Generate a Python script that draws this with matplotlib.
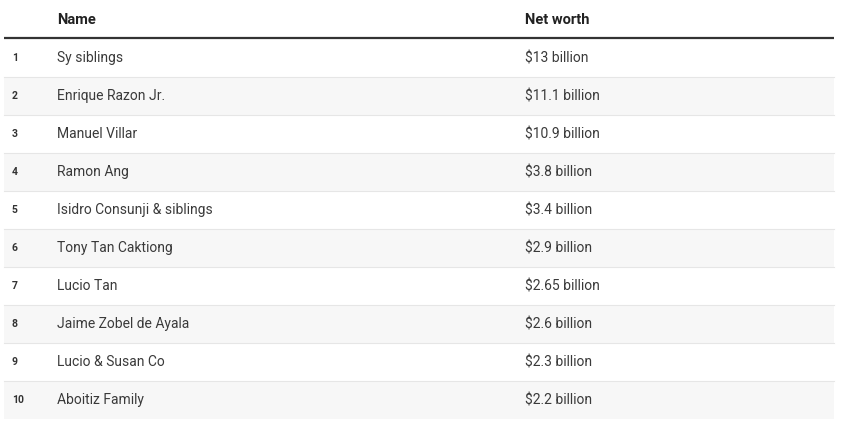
import matplotlib
matplotlib.use("Agg")
import matplotlib.pyplot as plt
from matplotlib.patches import Rectangle

ranks = [1, 2, 3, 4, 5, 6, 7, 8, 9, 10]
names = ["Sy siblings", "Enrique Razon Jr.", "Manuel Villar", "Ramon Ang",
         "Isidro Consunji & siblings", "Tony Tan Caktiong", "Lucio Tan",
         "Jaime Zobel de Ayala", "Lucio & Susan Co", "Aboitiz Family"]
net_worth = ["$13 billion", "$11.1 billion", "$10.9 billion", "$3.8 billion",
             "$3.4 billion", "$2.9 billion", "$2.65 billion", "$2.6 billion",
             "$2.3 billion", "$2.2 billion"]
headers = ["", "Name", "Net worth"]

plt.rcParams['font.family'] = ['Roboto', 'DejaVu Sans']
W, H = 843, 421
fig = plt.figure(figsize=(W / 100, H / 100), dpi=100)
ax = fig.add_axes([0, 0, 1, 1])
ax.set_xlim(0, W)
ax.set_ylim(H, 0)
ax.axis('off')

left, right = 4, 834
header_bottom = 38
row_h = 38
col_x = [12, 57, 525]

# header
for x, h in zip(col_x, headers):
    ax.text(x, 19.5, h, fontsize=10.5, fontweight='bold', color='#222222',
            va='center', ha='left')
ax.plot([left, right], [header_bottom, header_bottom], color='#333333', lw=1.6,
        solid_capstyle='butt')

for i, (r, n, v) in enumerate(zip(ranks, names, net_worth)):
    top = header_bottom + 1 + i * row_h
    if i % 2 == 1:
        ax.add_patch(Rectangle((left, top), right - left, row_h,
                               facecolor='#f7f7f7', edgecolor='none'))
    if i < len(ranks) - 1:
        ax.plot([left, right], [top + row_h, top + row_h], color='#e6e6e6',
                lw=0.8)
    cy = top + row_h / 2
    ax.text(col_x[0], cy, str(r), fontsize=7.5, fontweight='bold',
            color='#333333', va='center', ha='left')
    ax.text(col_x[1], cy, n, fontsize=10, color='#3a3a3a', va='center',
            ha='left')
    ax.text(col_x[2], cy, v, fontsize=10, color='#3a3a3a', va='center',
            ha='left')

fig.savefig('out.png', dpi=100, facecolor='white')
